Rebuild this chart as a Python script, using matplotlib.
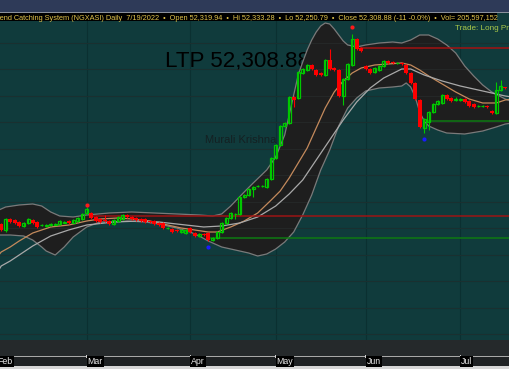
import numpy as np
import matplotlib
matplotlib.use("Agg")
import matplotlib.pyplot as plt
from matplotlib.patches import Rectangle

# ---------------- data ----------------
opens = [47246, 47170, 46944, 47359, 47321, 47246, 47095, 47208, 47321, 47246,
         47114, 47095, 47114, 47132, 47170, 47208, 47283, 47208, 47283, 47359,
         47585, 47585, 47434, 47359, 47321, 47283, 47170, 47283, 47359, 47510,
         47434, 47397, 47359, 47359, 47283, 47283, 47208, 47208, 47000, 46981,
         46944, 46868, 46830, 47019, 46830, 46717, 46793, 46830, 46566, 46642,
         46868, 47208, 47397, 47529, 47548, 48189, 48264, 48491, 48585, 48585,
         48566, 48868, 49661, 50151, 50868, 50981, 51963, 51925, 52868, 52981,
         53170, 52981, 52868, 52793, 53359, 53057, 52981, 52000, 52642, 53170,
         54151, 53812, 53132, 53019, 52906, 52981, 53132, 53321, 53283, 53246,
         53246, 53170, 52868, 52491, 51849, 50793, 51019, 51397, 51698, 51736,
         52038, 51925, 51849, 51849, 51887, 51812, 51698, 51623, 51623, 51623,
         51434, 51359, 52227, 52319.94]
closes = [47095, 46944, 47359, 47246, 47208, 47095, 47208, 47359, 47208, 47057,
          47132, 47132, 47151, 47170, 47283, 47246, 47208, 47321, 47397, 47548,
          47736, 47397, 47283, 47246, 47283, 47170, 47321, 47434, 47510, 47434,
          47359, 47321, 47283, 47246, 47246, 47170, 47132, 47019, 47019, 46868,
          46906, 46944, 46944, 46868, 46717, 46793, 46755, 46566, 46642, 46868,
          47208, 47397, 47585, 47548, 48189, 48264, 48491, 48566, 48604, 48604,
          48868, 49661, 50151, 50868, 50981, 51963, 51849, 52906, 53019, 53170,
          53019, 52793, 52793, 53359, 53019, 52981, 52000, 52642, 53208, 54151,
          53774, 53698, 53019, 52868, 53057, 53132, 53321, 53246, 53246, 53255,
          53208, 52868, 52491, 51887, 50831, 51132, 51397, 51698, 51812, 52038,
          51887, 51812, 51868, 51887, 51774, 51623, 51585, 51630, 51630, 51585,
          51359, 52227, 52359, 52308.88]
highs = [47283, 47208, 47397, 47397, 47359, 47283, 47246, 47397, 47359, 47283,
         47170, 47170, 47190, 47208, 47321, 47283, 47321, 47359, 47434, 47585,
         47812, 47623, 47472, 47397, 47510, 47321, 47359, 47472, 47548, 47548,
         47472, 47434, 47397, 47397, 47321, 47321, 47246, 47246, 47057, 47019,
         46981, 46981, 46981, 47057, 46868, 46830, 46830, 46868, 46680, 46906,
         47246, 47434, 47623, 47585, 48226, 48302, 48529, 48604, 48642, 48642,
         48906, 49699, 50189, 50906, 51019, 52000, 52000, 52944, 53057, 53208,
         53208, 53019, 52906, 53397, 53774, 53095, 53019, 52680, 53246, 54340,
         54189, 53850, 53170, 53057, 53095, 53170, 53359, 53359, 53321, 53283,
         53283, 53208, 52906, 52529, 51887, 51170, 51434, 51736, 51849, 52075,
         52075, 51963, 51963, 51925, 51925, 51849, 51736, 51661, 51661, 51661,
         51472, 52529, 52604, 52333.28]
lows = [47057, 46906, 46868, 47208, 47170, 47057, 47057, 47170, 47170, 47019,
        47095, 47057, 47095, 47114, 47132, 47190, 47170, 47190, 47246, 47321,
        47548, 47359, 47246, 47208, 47246, 47132, 47132, 47246, 47321, 47397,
        47321, 47283, 47246, 47208, 47208, 47132, 47095, 46981, 46981, 46830,
        46868, 46830, 46793, 46830, 46680, 46680, 46717, 46529, 46529, 46604,
        46830, 47170, 47359, 47359, 47510, 48151, 48226, 48189, 48566, 48566,
        48529, 48830, 49623, 50113, 50830, 50943, 51585, 51887, 52830, 52944,
        52981, 52755, 52755, 52755, 52981, 52944, 51962, 51661, 52604, 53132,
        53736, 53661, 52981, 52830, 52868, 52944, 53095, 53208, 53208, 53208,
        53170, 52830, 52453, 51849, 50793, 50604, 50717, 51359, 51661, 51698,
        51849, 51774, 51812, 51812, 51736, 51585, 51547, 51585, 51585, 51547,
        51321, 51321, 52189, 52250.79]

# Bollinger band (upper / lower) sampled at candle indices
upper_idx = [0, 2, 5, 8, 10, 12, 14, 17, 20, 25, 30, 35, 40, 45, 48, 50, 52, 55, 57, 60,
             62, 64, 66, 67, 68, 69, 70, 71, 72, 73, 74, 75, 76, 77, 78, 80, 82, 85, 88, 90,
             92, 94, 96, 98, 100, 102, 104, 106, 108, 110, 113, 115]
upper_val = [47661, 47812, 47887, 47925, 47849, 47623, 47472, 47434, 47510, 47585, 47623, 47585,
             47548, 47510, 47472, 47548, 47849, 48377, 48717, 49208, 49698, 50528, 52038, 52793,
             53283, 53736, 54113, 54415, 54642, 54755, 54717, 54528, 54302, 54076, 53925, 53849,
             53925, 54000, 54038, 54000, 54113, 54302, 54302, 54151, 53925, 53623, 53132, 52755,
             52415, 52151, 51887, 51750]
lower_idx = [0, 3, 6, 8, 10, 11, 13, 15, 17, 20, 23, 26, 29, 33, 36, 40, 43, 45, 47, 50,
             53, 56, 58, 60, 62, 64, 66, 68, 70, 72, 74, 76, 78, 80, 82, 85, 88, 90, 91, 92,
             93, 94, 95, 96, 98, 100, 104, 108, 111, 113, 115]
lower_val = [46755, 46755, 46717, 46566, 46302, 46151, 46000, 46302, 46680, 47057, 47246, 47246,
             47283, 47246, 47170, 47019, 46868, 46717, 46529, 46302, 46189, 46075, 45962, 46038,
             46226, 46491, 46868, 47510, 48264, 49208, 49962, 50868, 51547, 51925, 52189, 52302,
             52340, 52377, 52491, 52340, 51963, 51397, 51057, 50868, 50717, 50604, 50566, 50679,
             50831, 50943, 50990]

# fast (orange) and slow (grey) moving averages, sampled
fast_idx = [0, 1, 3, 5, 8, 12, 16, 20, 23, 27, 30, 34, 38, 41, 44, 47, 49, 52, 55, 58,
            61, 63, 65, 67, 69, 71, 73, 75, 77, 79, 81, 84, 87, 90, 92, 94, 96, 99, 102, 105,
            108, 111, 113, 115]
fast_val = [45900, 46113, 46302, 46529, 46830, 47057, 47132, 47283, 47359, 47397, 47359, 47283,
            47132, 47019, 46944, 46868, 46868, 47057, 47283, 47585, 48075, 48415, 48906, 49472,
            50038, 50793, 51547, 52151, 52566, 52868, 53057, 53170, 53208, 53246, 53170, 52981,
            52755, 52453, 52151, 51887, 51736, 51736, 51849, 51900]
slow_idx = [0, 1, 3, 5, 8, 12, 16, 20, 26, 32, 36, 42, 46, 50, 54, 58, 62, 65, 68, 71,
            74, 77, 80, 83, 86, 90, 92, 95, 99, 103, 108, 113, 115]
slow_val = [45300, 45585, 45774, 46000, 46340, 46717, 46944, 47132, 47246, 47283, 47246, 47132,
            47057, 47095, 47208, 47434, 47849, 48302, 48830, 49585, 50340, 51094, 51774, 52302,
            52679, 53019, 53019, 52793, 52566, 52378, 52189, 52000, 51950]

# signal markers
sell_idx = [20, 79]
sell_val = [47887, 54604]
buy_idx = [47, 95]
buy_val = [46302, 50378]

# support / resistance levels
level_val = [53812, 47472, 46642, 51057]
level_start = [81, 21, 47, 95]
level_color = ["#a31212", "#9c1414", "#0e7a12", "#0e7a12"]

month_labels = ["Feb", "Mar", "Apr", "May", "Jun", "Jul"]
month_idx = [0, 20, 43, 62, 82, 103]

symbol = "NGXASI"
date_str = "7/19/2022"
change = -11
change_pct = -0.0
volume = 205597152

FONT = ["Liberation Sans", "DejaVu Sans"]

# ---------------- layout ----------------
W, H = 510, 369
fig = plt.figure(figsize=(W / 100, H / 100), dpi=100)
fig.patch.set_facecolor("#103b3c")

def fy(px):  # figure fraction from top pixel
    return 1 - px / H

TOP, BOT = 21, 340
ax = fig.add_axes([0, fy(BOT), 1, (BOT - TOP) / H])
ax.set_facecolor("#103b3c")
for s in ax.spines.values():
    s.set_visible(False)
ax.set_xticks([])
ax.set_yticks([])

PX_PER_IDX = 4.5
IDX0_PX = -3.3
PX_PER_1000 = 26.5
def price_at(px):
    return 52000 + (96 - px) * 1000 / PX_PER_1000
ax.set_xlim((0 - IDX0_PX) / PX_PER_IDX, (W - IDX0_PX) / PX_PER_IDX)
ax.set_ylim(price_at(BOT), price_at(TOP))

# grid
grid_c = "#0b3031"
for p in range(43000, 56000, 1000):
    ax.axhline(p, color=grid_c, lw=0.8, zorder=2)
for m in month_idx:
    ax.axvline(m, color=grid_c, lw=0.8, zorder=2)

# text watermarks (drawn under the band)
ax.text(165 / W, fy(67), f"LTP {closes[-1]:,.2f}", transform=fig.transFigure,
        fontsize=16.1, color="#000000", family=FONT, zorder=2.5)
ax.text(205 / W, fy(143), "Murali Krishna", transform=fig.transFigure,
        fontsize=8, color="#142022", family=FONT, zorder=3.5)

# band fill
band_x = np.concatenate([upper_idx, lower_idx[::-1]])
band_y = np.concatenate([upper_val, lower_val[::-1]])
ax.fill(band_x, band_y, color="#1e1e1e", zorder=3, lw=0)

# grid faintly over band
for p in range(43000, 56000, 1000):
    ax.axhline(p, color="#2a3030", lw=0.6, zorder=3.2, alpha=0.6)

ax.plot(upper_idx, upper_val, color="#7a7a7a", lw=0.9, zorder=4)
ax.plot(lower_idx, lower_val, color="#7a7a7a", lw=0.9, zorder=4)

# moving averages
ax.plot(fast_idx, fast_val, color="#c48a5c", lw=0.9, zorder=5)
ax.plot(slow_idx, slow_val, color="#a9a9a9", lw=0.9, zorder=5)

# levels
xmax = ax.get_xlim()[1]
for v, s, c in zip(level_val, level_start, level_color):
    ax.hlines(v, s - 0.3, xmax + 1, color=c, lw=1.1, zorder=5.5)

# candles
n = len(closes)
bw = 0.68
minh = 1.1 * 1000 / PX_PER_1000
for i in range(n):
    o, c, h, l = opens[i], closes[i], highs[i], lows[i]
    up = c >= o
    col = "#00c800" if up else "#ff0000"
    ax.vlines(i, l, h, color=col, lw=0.8, zorder=6)
    lo, hi = min(o, c), max(o, c)
    if up:
        hgt = max(hi - lo, 0.4 * 1000 / PX_PER_1000)
        ax.add_patch(Rectangle((i - bw / 2, lo), bw, hgt, facecolor="none",
                               edgecolor=col, lw=0.9, zorder=7))
    else:
        hgt = max(hi - lo, minh)
        mid = (hi + lo) / 2
        ax.add_patch(Rectangle((i - bw / 2 - 0.08, mid - hgt / 2), bw + 0.16, hgt,
                               facecolor=col, edgecolor="none", zorder=7))

ax.plot(sell_idx, sell_val, "o", color="#ff1a1a", ms=3, zorder=8, mec="none")
ax.plot(buy_idx, buy_val, "o", color="#1a1aff", ms=3, zorder=8, mec="none")

ax.text(455 / W, fy(30), "Trade: Long Pr", transform=fig.transFigure,
        fontsize=5.9, color="#a9c94a", family=FONT, zorder=9)

# ---------------- header ----------------
fig.patches.append(Rectangle((0, fy(12)), 1, 12 / H, transform=fig.transFigure,
                             facecolor="#2e3a58", edgecolor="none", zorder=0))
fig.patches.append(Rectangle((0, fy(13)), 1, 1 / H, transform=fig.transFigure,
                             facecolor="#8a909c", edgecolor="none", zorder=0))
fig.patches.append(Rectangle((0, fy(21)), 497 / W, 8 / H, transform=fig.transFigure,
                             facecolor="#000000", edgecolor="none", zorder=0))
title = (f"Trend Catching System ({symbol}) Daily  {date_str}  \u2022  Open {opens[-1]:,.2f}  \u2022  "
         f"Hi {highs[-1]:,.2f}  \u2022  Lo {lows[-1]:,.2f}  \u2022  Close {closes[-1]:,.2f} "
         f"({change} {change_pct:.1f}%)  \u2022  Vol= {volume:,}")
fig.text(-7 / W, fy(19.5), title, fontsize=5.35, color="#e2c44c",
         family=FONT, va="baseline")

# ---------------- bottom axis ----------------
fig.patches.append(Rectangle((0, fy(356)), 1, (356 - BOT) / H, transform=fig.transFigure,
                             facecolor="#25292b", edgecolor="none", zorder=0))
fig.patches.append(Rectangle((0, fy(357)), 1, 1 / H, transform=fig.transFigure,
                             facecolor="#a8a8a8", edgecolor="none", zorder=1))
fig.patches.append(Rectangle((0, 0), 1, 3 / H, transform=fig.transFigure,
                             facecolor="#d6d6d6", edgecolor="none", zorder=0))
fig.patches.append(Rectangle((0, 3 / H), 1, 9 / H, transform=fig.transFigure,
                             facecolor="#1f2224", edgecolor="none", zorder=0))
for lab, m in zip(month_labels, month_idx):
    xpx = IDX0_PX + m * PX_PER_IDX
    fig.patches.append(Rectangle(((xpx - 0.5) / W, fy(358)), 1 / W, 3 / H, transform=fig.transFigure,
                                 facecolor="#cfcfcf", edgecolor="none", zorder=2))
    fig.text((xpx + 1) / W, fy(364), lab, fontsize=6.3, color="#e8e8e8",
             family=FONT, va="baseline",
             bbox=dict(boxstyle="square,pad=0.1", facecolor="#000000", edgecolor="none"))

fig.savefig("out.png", dpi=100, facecolor=fig.get_facecolor())
